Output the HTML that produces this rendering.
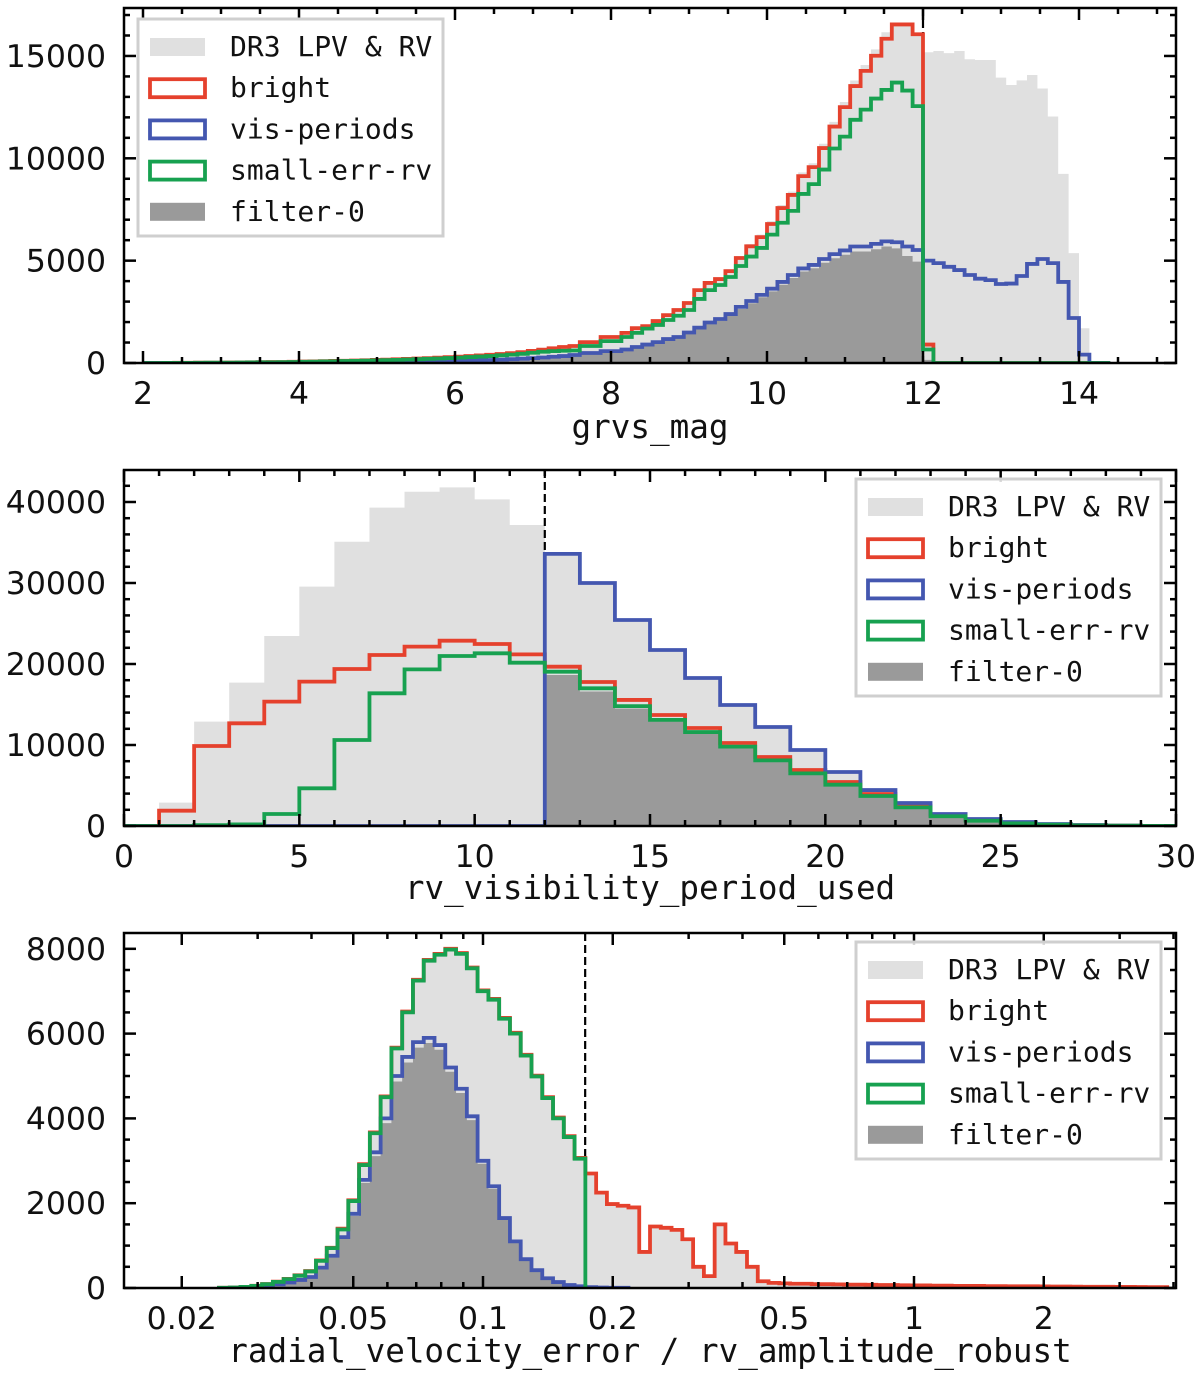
<!DOCTYPE html>
<html><head><meta charset="utf-8"><style>
html,body{margin:0;padding:0;background:#fff;}
svg{display:block;}
.tl{font-family:"DejaVu Sans","Liberation Sans",sans-serif;font-size:31.5px;fill:#111;}
.mono{font-family:"DejaVu Sans Mono","Liberation Mono",monospace;fill:#111;}
</style></head><body>
<svg id="fig" width="1200" height="1378" viewBox="0 0 1200 1378" xmlns="http://www.w3.org/2000/svg">
<defs>
<clipPath id="c1"><rect x="124" y="8" width="1052" height="355"/></clipPath>
<clipPath id="c2"><rect x="124" y="470" width="1052" height="356"/></clipPath>
<clipPath id="c3"><rect x="124" y="933" width="1052" height="355"/></clipPath>
</defs>
</svg>
<script>
// ---------- Panel 1: grvs_mag (bins start 2.0, width 2/15) ----------
const p1Start = 2.0, p1Width = 2/15;
const p1Gray = [0,0,5,10,12,16,20,22,26,31,36,41,46,52,62,72,82,92,103,113,124,139,155,170,186,206,227,248,268,294,320,350,381,412,453,494,546,608,670,742,
800,850,1040,1040,1300,1300,1500,1730,1840,2090,2390,2640,2990,3630,3990,4180,4580,5230,5810,6270,6930,7720,8370,9310,9760,10710,11780,12750,13800,14560,15320,16160,16540,16540,16060,
15180,15240,15140,15240,14840,14800,14800,13940,13580,13810,14070,13410,12040,9240,5370,1700,0,0];
const p1Red = [0,0,5,10,10,15,20,20,25,30,35,40,45,50,60,70,80,90,100,110,120,135,150,165,180,200,220,240,260,285,310,340,370,400,440,480,530,590,650,720,
780,830,1020,1020,1270,1270,1470,1700,1800,2050,2340,2590,2930,3560,3910,4100,4490,5130,5700,6150,6790,7570,8210,9130,9570,10500,11550,12500,13530,14270,15010,15840,16540,16540,16060,
900,0,0,0,0,0,0,0,0,0,0,0,0,0,0,0,0,0];
const p1Blue = [0,0,0,0,0,2,3,4,5,6,8,10,12,14,16,18,20,23,26,30,34,38,43,48,54,60,68,76,85,95,105,118,132,148,165,185,210,240,270,305,
340,390,490,490,580,580,660,780,900,1020,1170,1270,1490,1730,1980,2150,2390,2740,3030,3330,3630,3960,4300,4620,4790,5080,5320,5500,5690,5690,5820,5940,5900,5690,5520,
5000,4880,4700,4540,4300,4120,4050,3860,3880,4250,4840,5080,4880,3960,2200,410,0,0];
const p1Green = [0,0,4,8,8,12,16,16,20,25,30,34,38,42,50,60,68,76,85,94,102,115,128,140,153,170,187,204,221,242,263,290,315,340,375,410,450,500,550,580,
600,610,830,830,1070,1070,1270,1470,1680,1860,2100,2310,2590,3130,3560,3810,4200,4740,5200,5620,6270,6850,7430,8260,8740,9450,10480,11060,11880,12380,12920,13340,13700,13310,12550,
660,0,0,0,0,0,0,0,0,0,0,0,0,0,0,0,0,0];
const p1Filter = [0,0,0,0,0,2,3,4,5,6,7,9,11,13,15,17,19,22,25,28,32,36,41,46,51,57,65,72,81,90,100,112,126,141,157,176,200,228,257,290,
320,370,460,460,550,550,630,740,860,980,1120,1220,1430,1660,1900,2070,2300,2640,2920,3210,3500,3820,4150,4470,4630,4900,5120,5290,5450,5450,5560,5690,5600,5230,4950,
150,0,0,0,0,0,0,0,0,0,0,0,0,0,0,0,0,0];
const p1XTicks = [2,4,6,8,10,12,14];
const p1YTicks = [0,5000,10000,15000];
const p1Cut = 12;

// ---------- Panel 2: rv_visibility_period_used (bins start 0, width 1) ----------
const p2Start = 0, p2Width = 1;
const p2Gray = [0,2880,12880,17700,23460,29550,35100,39300,41270,41810,40330,37160,33600,30000,25430,21730,18270,14940,12220,9380,6670,4440,2840,1480,860,490,250,120,50,20];
const p2Red = [0,1890,9880,12680,15350,17820,19380,21110,22140,22880,22470,21190,19670,17780,15560,13700,12100,10250,8520,6910,5430,3950,2470,1360,740,370,200,100,50,20];
const p2Blue = [0,0,0,0,0,0,0,0,0,0,0,0,33600,30000,25430,21730,18270,14940,12220,9380,6670,4440,2840,1480,860,490,250,120,50,20];
const p2Green = [0,0,100,200,1480,4650,10620,16380,19340,20990,21320,20160,19050,17000,14800,13100,11600,9800,8100,6500,5100,3700,2300,1200,650,320,170,80,40,15];
const p2Filter = [0,0,0,0,0,0,0,0,0,0,0,0,18640,16600,14500,12900,11400,9600,8000,6400,5000,3600,2200,1150,600,300,150,70,30,10];
const p2XTicks = [0,5,10,15,20,25,30];
const p2YTicks = [0,10000,20000,30000,40000];
const p2Cut = 12;

// ---------- Panel 3: log10(radial_velocity_error / rv_amplitude_robust) (bins start -1.6125, width 0.025 dex) ----------
const p3Start = -1.6125, p3Width = 0.025;
const p3Green = [5,10,25,50,90,145,210,290,390,640,940,1380,2050,2900,3650,4500,5650,6500,7250,7720,7860,7980,7880,7540,7000,6800,6350,6000,5480,4990,4480,4000,3560,3050];
const p3Blue = [3,6,15,35,60,85,130,190,260,480,760,1200,1750,2550,3200,4000,5000,5450,5800,5900,5730,5200,4700,4050,3000,2400,1650,1100,680,420,230,140,70,40,20,10,5,5];
const p3Filter = [3,6,14,33,57,82,126,184,252,466,737,1164,1700,2480,3110,3890,4870,5320,5670,5780,5620,5100,4600,3960,2930,2340,1610,1070,660,400,220,130,60,30];
const p3Red = [5,10,26,52,93,150,215,300,400,650,950,1400,2070,2920,3670,4520,5670,6520,7270,7740,7880,8000,7900,7560,7020,6820,6370,6020,5500,5010,4500,4020,3580,3070,
2700,2250,1980,1940,1900,850,1450,1420,1370,1150,500,280,1500,1050,850,500,160,
120,110,100,100,90,90,85,80,80,75,70,70,65,60,60,55,55,50,50,48,45,45,42,40,40,38,35,35,32,30,30,28,25,25,22,20,20];
const p3Gray = [5,10,26,52,93,150,215,300,400,650,950,1400,2070,2920,3670,4520,5670,6520,7270,7740,7880,8000,7900,7560,7020,6820,6370,6020,5500,5010,4500,4020,3580,3070,
2700,2250,1980,1940,1900,850,1450,1420,1370,1150,500,280,1500,1050,850,500,160,
120,110,100,100,90,90,85,80,80,75,70,70,65,60,60,55,55,50,50,48,45,45,42,40,40,38,35,35,32,30,30,28,25,25,22,20,20];
const p3XTicks = [0.02,0.05,0.1,0.2,0.5,1,2];
const p3XTickText = ["0.02","0.05","0.1","0.2","0.5","1","2"];
const p3XMinor = [0.03,0.04,0.06,0.07,0.08,0.09,0.3,0.4,0.6,0.7,0.8,0.9,3,4];
const p3YTicks = [0,2000,4000,6000,8000];
const p3Cut = 0.1726;

const legendLabels = ["DR3 LPV & RV","bright","vis-periods","small-err-rv","filter-0"];

// ---------- drawing ----------
const NS = "http://www.w3.org/2000/svg";
const svg = document.getElementById('fig');
const C = {gray:'#e0e0e0', dark:'#9a9a9a', red:'#e5412d', blue:'#4457b0', green:'#17a150'};

function mk(tag, attrs, parent){
  const el = document.createElementNS(NS, tag);
  for (const k in attrs) el.setAttribute(k, attrs[k]);
  (parent||svg).appendChild(el);
  return el;
}

function makePanel(x0,y0,x1,y1,xmin,xmax,ymax,logx){
  return {x0,y0,x1,y1,
    sx: v => { const t = logx ? Math.log10(v) : v; return x0 + (t - xmin)/(xmax - xmin)*(x1-x0); },
    sb: b => x0 + (b - xmin)/(xmax - xmin)*(x1-x0),
    sy: v => y1 - v/ymax*(y1-y0)};
}

function histPath(P, start, width, vals, closed){
  let d = 'M' + P.sb(start).toFixed(2) + ',' + P.sy(0).toFixed(2);
  for (let i=0;i<vals.length;i++){
    const a = P.sb(start + i*width), b = P.sb(start + (i+1)*width), y = P.sy(vals[i]);
    d += 'L' + a.toFixed(2) + ',' + y.toFixed(2) + 'L' + b.toFixed(2) + ',' + y.toFixed(2);
  }
  d += 'L' + P.sb(start + vals.length*width).toFixed(2) + ',' + P.sy(0).toFixed(2);
  if (closed) d += 'Z';
  return d;
}

function drawPanel(id, P, start, width, series, cutX, clip){
  const g = mk('g', {'clip-path':'url(#'+clip+')'});
  
  
  const fg = mk('path', {d: histPath(P,start,width,series.gray,true), fill:C.gray, stroke:'none'}, g);
  
  
  const fd = mk('path', {d: histPath(P,start,width,series.filter,true), fill:C.dark, stroke:'none'}, g);
  
  
  const cx = P.sx(cutX);
  const dl = mk('line', {x1:cx, y1:P.y0, x2:cx, y2:P.y1, stroke:'#000', 'stroke-width':2.2, 'stroke-dasharray':'8,4'}, g);
  
  
  const sr = mk('path', {d: histPath(P,start,width,series.red,false), fill:'none', stroke:C.red, 'stroke-width':3.8, 'stroke-linejoin':'miter'}, g);
  
  
  const sb = mk('path', {d: histPath(P,start,width,series.blue,false), fill:'none', stroke:C.blue, 'stroke-width':3.8}, g);
  
  
  const sgp = mk('path', {d: histPath(P,start,width,series.green,false), fill:'none', stroke:C.green, 'stroke-width':3.8}, g);
  
  
}

function drawFrame(id, P){
  const r = mk('rect', {x:P.x0, y:P.y0, width:P.x1-P.x0, height:P.y1-P.y0, fill:'none', stroke:'#000', 'stroke-width':2.5});
  
  
}

function xTick(id, P, px, len){
  const a = mk('line', {x1:px, y1:P.y1, x2:px, y2:P.y1-len, stroke:'#000', 'stroke-width':2.5});
  
  
  const b = mk('line', {x1:px, y1:P.y0, x2:px, y2:P.y0+len, stroke:'#000', 'stroke-width':2.5});
  
  
}
function yTick(id, P, py, len){
  const a = mk('line', {x1:P.x0, y1:py, x2:P.x0+len, y2:py, stroke:'#000', 'stroke-width':2.5});
  
  
  const b = mk('line', {x1:P.x1, y1:py, x2:P.x1-len, y2:py, stroke:'#000', 'stroke-width':2.5});
  
  
}
function label(id, x, y, txt, anchor, cls, size){
  const t = mk('text', {x:x, y:y, 'text-anchor':anchor, class:cls});
  if (size) t.setAttribute('font-size', size);
  t.textContent = txt;
  
  
  return t;
}

function drawAxes(id, P, xt, xtText, xMinor, yt, yMinorStep, ymaxVal, xtitle, titleY){
  for (let i=0;i<xt.length;i++){
    const px = P.sx(xt[i]);
    xTick(id, P, px, 12);
    label(id + '-x-tick-label', px, P.y1 + 41, xtText[i], 'middle', 'tl');
  }
  xMinor.forEach(v => xTick(id, P, P.sx(v), 6));
  yt.forEach(v => {
    const py = P.sy(v);
    yTick(id, P, py, 12);
    label(id + '-y-tick-label', 106, py + 11, String(v), 'end', 'tl');
  });
  for (let v = yMinorStep; v < ymaxVal; v += yMinorStep){
    if (yt.indexOf(v) < 0) yTick(id, P, P.sy(v), 6);
  }
  label(id + '-x-axis-title', 650, titleY, xtitle, 'middle', 'mono', 32.6);
}

function drawLegend(id, bx, by){
  const g = mk('g', {});
  
  
  const box = mk('rect', {x:bx, y:by, width:305, height:217, fill:'#fff', 'fill-opacity':0.85, stroke:'#cfcfcf', 'stroke-width':3}, g);
  
  
  const styles = [
    {fill:C.gray, stroke:'none'}, {fill:'#fff', stroke:C.red}, {fill:'#fff', stroke:C.blue},
    {fill:'#fff', stroke:C.green}, {fill:C.dark, stroke:'none'}];
  for (let i=0;i<legendLabels.length;i++){
    const cy = by + 28 + i*41.2;
    const p = mk('rect', {x:bx+12, y:cy-9, width:55, height:18, fill:styles[i].fill, stroke:styles[i].stroke, 'stroke-width':3.8}, g);
    
    
    const t = mk('text', {x:bx+92, y:cy+9, class:'mono', 'font-size':28}, g);
    t.textContent = legendLabels[i];
    
    
  }
}

// Panel 1
const P1 = makePanel(124, 8, 1176, 363, 2 - 19/78, 2 + 1052/78 - 19/78, 17343, false);
drawPanel('grvs', P1, p1Start, p1Width, {gray:p1Gray, filter:p1Filter, red:p1Red, blue:p1Blue, green:p1Green}, p1Cut, 'c1');
const p1Minor = []; for (let v=2; v<=15; v+=0.5) if (v % 2 !== 0) p1Minor.push(v);
drawAxes('grvs', P1, p1XTicks, p1XTicks.map(String), p1Minor, p1YTicks, 1000, 17343, 'grvs_mag', 438);
drawFrame('grvs', P1);
drawLegend('grvs', 138, 19);

// Panel 2
const P2 = makePanel(124, 470, 1176, 826, 0, 30, 43950, false);
drawPanel('visibility', P2, p2Start, p2Width, {gray:p2Gray, filter:p2Filter, red:p2Red, blue:p2Blue, green:p2Green}, p2Cut, 'c2');
const p2Minor = []; for (let v=1; v<30; v++) if (v % 5 !== 0) p2Minor.push(v);
drawAxes('visibility', P2, p2XTicks, p2XTicks.map(String), p2Minor, p2YTicks, 2000, 43950, 'rv_visibility_period_used', 899);
drawFrame('visibility', P2);
drawLegend('visibility', 856, 479);

// Panel 3
const P3 = makePanel(124, 933, 1176, 1288, -1 - 359/431, -1 + 693/431, 8373, true);
drawPanel('rv-error', P3, p3Start, p3Width, {gray:p3Gray, filter:p3Filter, red:p3Red, blue:p3Blue, green:p3Green}, p3Cut, 'c3');
drawAxes('rv-error', P3, p3XTicks, p3XTickText, p3XMinor, p3YTicks, 500, 8373, 'radial_velocity_error / rv_amplitude_robust', 1362);
drawFrame('rv-error', P3);
drawLegend('rv-error', 856, 942);
</script>
</body></html>
